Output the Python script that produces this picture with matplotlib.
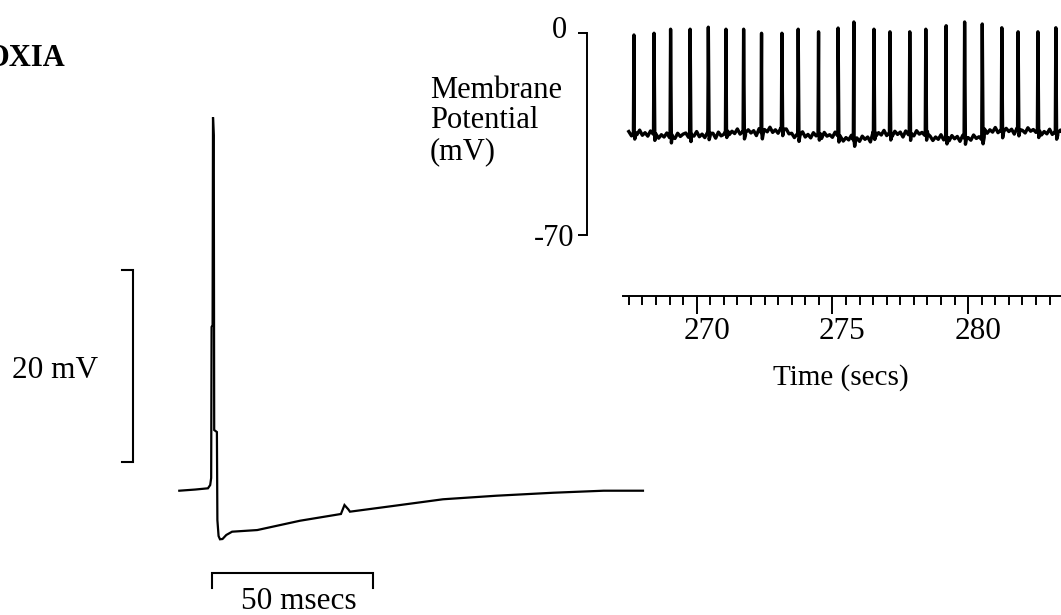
import numpy as np
import matplotlib
matplotlib.use("Agg")
import matplotlib.pyplot as plt
from matplotlib.ticker import FixedLocator
from matplotlib.transforms import ScaledTranslation

plt.rcParams["font.family"] = ["Liberation Serif", "DejaVu Serif"]

# ---- single action potential (left trace), time in ms, voltage relative to rest in mV
ap_time_ms = [0.0, 4.9, 8.9, 9.6, 9.9, 10.03, 10.34, 10.47, 10.71, 10.84, 11.68,
              11.83, 12.2, 12.64, 13.42, 14.6, 16.4, 24.2, 37.5, 50.2, 51.3,
              52.5, 53.0, 66.3, 81.9, 98.5, 116.2, 131.8, 144.0]
ap_mv = [0.0, 0.12, 0.25, 0.59, 1.32, 17.02, 17.22, 38.82, 36.95, 6.31, 6.10,
         -3.05, -4.71, -5.05, -5.02, -4.6, -4.26, -4.09, -3.12, -2.42, -1.49,
         -1.94, -2.18, -1.59, -0.89, -0.52, -0.21, 0.0, 0.0]

# ---- spike train (right trace)
spike_time = [267.69, 268.43, 269.04, 269.76, 270.43, 271.08, 271.73, 272.39,
              273.14, 273.74, 274.49, 275.21, 275.79, 276.53, 277.12, 277.85,
              278.44, 279.19, 279.87, 280.52, 281.24, 281.84, 282.57, 283.23]
spike_peak = [-0.8, -0.2, 1.2, 1.2, 1.9, 1.2, 1.2, -0.2, -0.2, 1.2, 0.3, 1.6,
              3.7, 1.2, 0.3, 0.3, 1.2, 2.4, 3.7, 3.0, 1.7, 0.3, 0.3, 1.7]

# inter-spike membrane potential, sampled every 0.1 s from 267.5 s
baseline_start = 267.5
baseline_step = 0.1
baseline_mv = [
    -34.2, -35.7, -34.5, -35.3, -33.7, -35.5, -34.6, -35.8, -34.0, -35.1,
    -35.0, -36.5, -35.3, -36.1, -34.7, -36.3, -35.4, -36.6, -34.8, -35.9, -35.1,
    -34.7, -36.2, -35.0, -35.8, -34.2, -36.0, -35.1, -36.3, -34.5, -35.6,
    -34.8, -36.5, -34.4, -35.7, -35.2,
    -33.8, -35.3, -34.1, -34.9, -33.3, -35.1, -34.2, -35.4, -33.6, -34.7, -33.9, -35.6,
    -33.2, -34.7, -33.5, -34.3, -32.7, -34.5, -33.6, -34.8, -33.0, -34.1, -33.3, -35.0,
    -34.8, -36.3, -35.1, -35.9, -34.3, -36.1, -35.2, -36.4, -34.6, -35.7,
    -34.9, -36.6, -34.5, -35.8, -35.3, -36.2, -34.4, -35.6,
    -36.0, -37.5, -36.3, -37.1, -35.5, -37.3, -36.4, -37.6, -35.8, -36.9, -36.1, -37.8,
    -34.3, -35.8, -34.6, -35.4, -33.8, -35.6, -34.7, -35.9, -34.1, -35.2,
    -34.4, -36.1, -34.0, -35.3, -34.8, -35.7, -33.9, -35.1, -34.5, -35.5, -34.2,
    -35.8, -37.3, -36.1, -36.9, -35.3, -37.1, -36.2, -37.4, -35.6, -36.7,
    -35.9, -37.6, -35.5, -36.8, -36.3, -37.2, -35.4, -36.6, -36.0, -37.0,
    -33.3, -34.8, -33.6, -34.4, -32.8, -34.6, -33.7, -34.9, -33.1, -34.2,
    -33.4, -35.1, -33.0, -34.3, -33.8, -34.7, -32.9, -34.1, -33.5, -34.5,
    -33.9, -35.4, -34.2, -35.0, -33.4, -35.2, -34.3, -35.5, -33.7, -34.8,
]

time_ticks = [270, 275, 280]
time_tick_labels = ["270", "275", "280"]
mv_ticks = [0, -70]
mv_tick_labels = ["0", "-70"]

W, H, DPI = 1061, 615, 100
fig = plt.figure(figsize=(W / DPI, H / DPI), dpi=DPI)
fig.patch.set_facecolor("white")

# ================= left panel: single spike with scale bars =================
axl = fig.add_axes([0, 0, 660 / W, 1])
axl.set_xlim(-55.68, 149.29)
axl.set_ylim(-12.92, 51.01)
axl.axis("off")
axl.plot(ap_time_ms, ap_mv, color="black", lw=1.6, solid_joinstyle="miter")

# 20 mV vertical scale bar
axl.plot([-17.9, -14.3, -14.3, -17.9], [22.95, 22.95, 2.95, 2.95],
         color="black", lw=1.5, solid_joinstyle="miter", clip_on=False)
axl.text(-38.5, 12.5, "20 mV", fontsize=22.5, ha="center", va="center")

# 50 ms horizontal scale bar
axl.plot([10.06, 10.06, 60.06, 60.06], [-10.1, -8.59, -8.59, -10.1],
         color="black", lw=1.5, solid_joinstyle="miter", clip_on=False)
axl.text(37.0, -11.55, "50 msecs", fontsize=22.5, ha="center", va="center")

fig.text(65 / W, 1 - 58.5 / H, "OXIA", fontsize=22, fontweight="bold",
         ha="right", va="center")

# ================= right panel: spike train =================
axr = fig.add_axes([586.7 / W, (H - 330) / H, 474.3 / W, 330 / H])
axr.patch.set_visible(False)
axr.set_xlim(265.95, 283.42)
axr.set_ylim(-102.87, 11.31)

bv = np.array(baseline_mv)
bt = baseline_start + baseline_step * np.arange(len(bv))
tr_t = list(bt)
tr_v = list(bv)
for ts, pk in zip(spike_time, spike_peak):
    b = float(np.interp(ts, bt, bv))
    tr_t += [ts - 0.02, ts, ts + 0.03, ts + 0.07]
    tr_v += [b, pk, b - 2.2, b]
order = np.argsort(tr_t, kind="stable")
axr.plot(np.array(tr_t)[order], np.array(tr_v)[order], color="black", lw=2.4)

for s in ("top", "right"):
    axr.spines[s].set_visible(False)
axr.spines["left"].set_bounds(-70, 0)
axr.spines["left"].set_linewidth(1.4)
axr.spines["bottom"].set_position(("data", -91.0))
axr.spines["bottom"].set_bounds(267.28, 283.42)
axr.spines["bottom"].set_linewidth(1.4)

axr.yaxis.set_major_locator(FixedLocator(mv_ticks))
axr.set_yticklabels(mv_tick_labels)
axr.tick_params(axis="y", direction="out", length=6.7, width=1.4, pad=2,
                labelsize=22)

axr.xaxis.set_major_locator(FixedLocator(time_ticks))
axr.set_xticklabels(time_tick_labels)
axr.xaxis.set_minor_locator(FixedLocator(np.arange(267.5, 283.6, 0.5)))
axr.tick_params(axis="x", which="major", direction="out", length=12.7,
                width=1.4, pad=3, labelsize=22.5)
axr.tick_params(axis="x", which="minor", direction="out", length=6.7,
                width=1.4)

# tick-label offsets (in pixels)
for lab in axr.get_xticklabels():
    lab.set_transform(lab.get_transform() + ScaledTranslation(10 / DPI, 0, fig.dpi_scale_trans))
ylabs = axr.get_yticklabels()
ylabs[0].set_transform(ylabs[0].get_transform() + ScaledTranslation(-8 / DPI, 6 / DPI, fig.dpi_scale_trans))

axr.set_ylabel("Membrane\nPotential\n(mV)", rotation=0, ha="left", va="center",
               fontsize=22, linespacing=1.08)
axr.yaxis.set_label_coords((430 - 586.7) / 474.3, 1 - 121 / 330)
axr.set_xlabel("Time (secs)", fontsize=21, ha="center", va="center")
axr.xaxis.set_label_coords((841 - 586.7) / 474.3, 1 - 378 / 330)

fig.savefig("out.png", dpi=DPI, facecolor="white")
